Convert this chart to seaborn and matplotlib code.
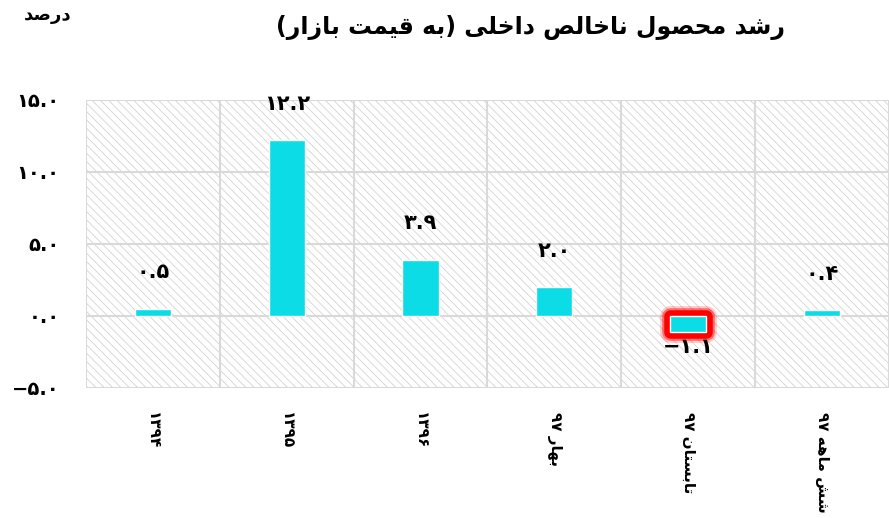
import matplotlib
matplotlib.use("Agg")
import matplotlib.pyplot as plt
import matplotlib.patheffects as pe
from matplotlib.patches import Rectangle
import seaborn as sns

# داده‌ها
categories = ["۱۳۹۴", "۱۳۹۵", "۱۳۹۶", "بهار ۹۷", "تابستان ۹۷", "شش ماهه ۹۷"]
values = [0.5, 12.2, 3.9, 2.0, -1.1, 0.4]
yticks = [-5, 0, 5, 10, 15]
title = "رشد محصول ناخالص داخلی (به قیمت بازار)"
unit = "درصد"

bar_color = "#0BDCE6"

# شکل‌دهی ساده حروف عربی/فارسی (matplotlib خودش این کار را نمی‌کند)
# isolated, final, initial, medial
FORMS = {
    "ا": ("\uFE8D", "\uFE8E", None, None),
    "ب": ("\uFE8F", "\uFE90", "\uFE91", "\uFE92"),
    "ت": ("\uFE95", "\uFE96", "\uFE97", "\uFE98"),
    "ح": ("\uFEA1", "\uFEA2", "\uFEA3", "\uFEA4"),
    "خ": ("\uFEA5", "\uFEA6", "\uFEA7", "\uFEA8"),
    "د": ("\uFEA9", "\uFEAA", None, None),
    "ر": ("\uFEAD", "\uFEAE", None, None),
    "ز": ("\uFEAF", "\uFEB0", None, None),
    "س": ("\uFEB1", "\uFEB2", "\uFEB3", "\uFEB4"),
    "ش": ("\uFEB5", "\uFEB6", "\uFEB7", "\uFEB8"),
    "ص": ("\uFEB9", "\uFEBA", "\uFEBB", "\uFEBC"),
    "ق": ("\uFED5", "\uFED6", "\uFED7", "\uFED8"),
    "ل": ("\uFEDD", "\uFEDE", "\uFEDF", "\uFEE0"),
    "م": ("\uFEE1", "\uFEE2", "\uFEE3", "\uFEE4"),
    "ن": ("\uFEE5", "\uFEE6", "\uFEE7", "\uFEE8"),
    "ه": ("\uFEE9", "\uFEEA", "\uFEEB", "\uFEEC"),
    "و": ("\uFEED", "\uFEEE", None, None),
    "ی": ("\uFEEF", "\uFEF0", "\uFEF3", "\uFEF4"),
}
DIGITS = set("۰۱۲۳۴۵۶۷۸۹0123456789.−-")
MIRROR = {"(": ")", ")": "("}


def shape(text):
    out = []
    for i, ch in enumerate(text):
        if ch not in FORMS:
            out.append(ch)
            continue
        prev = text[i - 1] if i > 0 else None
        nxt = text[i + 1] if i + 1 < len(text) else None
        iso, fin, ini, med = FORMS[ch]
        j_prev = prev in FORMS and FORMS[prev][2] is not None
        j_next = nxt in FORMS and ini is not None
        if j_prev and j_next:
            out.append(med)
        elif j_prev:
            out.append(fin)
        elif j_next:
            out.append(ini)
        else:
            out.append(iso)
    return "".join(out)


def rtl(text):
    s = shape(text)[::-1]
    res, run = [], ""
    for ch in s:
        if ch in DIGITS:
            run += ch
        else:
            res.append(run[::-1])
            run = ""
            res.append(MIRROR.get(ch, ch))
    res.append(run[::-1])
    return "".join(res)


def fa_num(v):
    s = f"{abs(v):.1f}".translate(str.maketrans("0123456789", "۰۱۲۳۴۵۶۷۸۹"))
    return ("−" if v < 0 else "") + s


sns.set_style("white")
plt.rcParams["font.family"] = ["DejaVu Sans"]
plt.rcParams["font.weight"] = "bold"
plt.rcParams["text.color"] = "black"
plt.rcParams["xtick.color"] = "black"
plt.rcParams["ytick.color"] = "black"
plt.rcParams["hatch.linewidth"] = 0.6

fig = plt.figure(figsize=(8.89, 5.18), dpi=100)
ax = fig.add_axes([0.0967, 0.251, 0.9033, 0.556])

# پس‌زمینه هاشور خورده
ax.add_patch(Rectangle((0, 0), 1, 1, transform=ax.transAxes, facecolor="white",
                       edgecolor="#D3D3D3", linewidth=0, hatch="\\\\\\\\", zorder=0))

sns.barplot(x=categories, y=values, color=bar_color, width=0.27, saturation=1,
            ax=ax, zorder=3)

bars = ax.containers[0]
for bar, v in zip(bars, values):
    if v < 0:
        bar.set_path_effects([
            pe.Stroke(linewidth=15, foreground="red", alpha=0.2, joinstyle="round"),
            pe.Stroke(linewidth=12, foreground="red", alpha=0.45, joinstyle="round"),
            pe.Stroke(linewidth=9, foreground="red", joinstyle="round"),
            pe.Normal(),
        ])

for i, v in enumerate(values):
    ax.annotate(fa_num(v), xy=(i, v), xytext=(0, 19 if v >= 0 else -4),
                textcoords="offset points", ha="center",
                va="bottom" if v >= 0 else "top", fontsize=15,
                fontweight="bold", color="black", zorder=5)

ax.set_ylim(-5, 15)
ax.set_xlim(-0.5, len(categories) - 0.5)
ax.set_yticks(yticks)
ax.set_yticklabels([fa_num(float(t)) for t in yticks], fontsize=14, fontweight="bold")
ax.set_xticks(range(len(categories)))
ax.set_xticklabels([rtl(c) for c in categories], rotation=-90, va="top",
                   ha="center", fontsize=11, fontweight="bold")
ax.set_xticks([i - 0.5 for i in range(len(categories) + 1)], minor=True)
ax.tick_params(axis="y", length=0, pad=19)
ax.tick_params(axis="x", which="both", length=0, pad=17)

ax.grid(axis="y", which="major", color="#D9D9D9", linewidth=1.5, zorder=1)
ax.grid(axis="x", which="minor", color="#D9D9D9", linewidth=1.5, zorder=1)
ax.grid(axis="x", which="major", visible=False)
ax.set_axisbelow(True)
for sp in ax.spines.values():
    sp.set_visible(False)
ax.set_xlabel("")
ax.set_ylabel("")

fig.text(0.597, 0.946, rtl(title), ha="center", va="center", fontsize=17,
         fontweight="bold")
fig.text(0.054, 0.972, rtl(unit), ha="center", va="center", fontsize=13,
         fontweight="bold")

fig.savefig("out.png", dpi=100)
